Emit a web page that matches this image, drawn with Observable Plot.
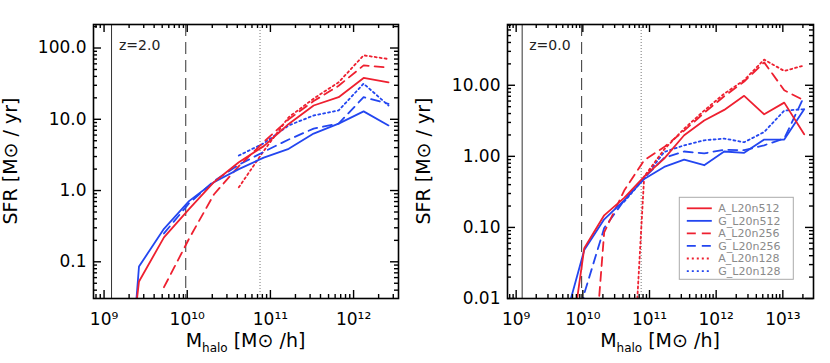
<!DOCTYPE html>
<html><head><meta charset="utf-8">
<script src="https://cdn.jsdelivr.net/npm/d3@7"></script>
<script src="https://cdn.jsdelivr.net/npm/@observablehq/plot@0.6"></script>
<style>
body{margin:0;background:#fff;}
#wrap{display:flex;width:830px;height:363px;overflow:hidden;}
</style></head><body><div id="wrap"></div>
<script>
// ---------- data ----------
const massBins = [1.32e9, 2.63e9, 5.25e9, 1.05e10, 2.09e10, 4.17e10, 8.32e10, 1.66e11, 3.31e11, 6.61e11, 1.32e12, 2.63e12, 5.25e12, 1.05e13, 2.09e13];
const seriesNames = ["A_L20n512", "G_L20n512", "A_L20n256", "G_L20n256", "A_L20n128", "G_L20n128"];
const panelLabels = ["z=2.0", "z=0.0"];
const refMasses = [1.23e9, 9.6e9, 7.5e10];

// z = 2.0 (left panel)
const z2_A_L20n512 = [5e-5, 0.053, 0.22, 0.55, 1.31, 2.5, 4.2, 8.6, 15.6, 20.4, 38, 33, null, null, null];
const z2_G_L20n512 = [3e-6, 0.086, 0.29, 0.71, 1.31, 2.0, 2.9, 3.85, 6.3, 8.7, 12.9, 8.2, null, null, null];
const z2_A_L20n256 = [null, null, 0.044, 0.21, 0.88, 2.2, 4.8, 10, 18, 29.5, 57, 53, null, null, null];
const z2_G_L20n256 = [null, null, 0.25, 0.66, 1.35, 2.3, 3.5, 5.2, 7.4, 8.7, 20.4, 16.5, null, null, null];
const z2_A_L20n128 = [null, null, null, null, null, 1.11, 3.6, 10.7, 19.5, 33, 79, 70, null, null, null];
const z2_G_L20n128 = [null, null, null, null, null, 3.1, 4.6, 8.2, 11.3, 13.3, 31.6, 15.6, null, null, null];

// z = 0.0 (right panel)
const z0_A_L20n512 = [null, null, 0.0005, 0.051, 0.148, 0.26, 0.52, 0.93, 1.98, 3.2, 4.5, 7.1, 3.9, 5.7, 2.04];
const z0_G_L20n512 = [null, null, 0.0045, 0.048, 0.13, 0.24, 0.48, 0.71, 0.9, 0.75, 1.17, 1.12, 1.72, 1.72, 4.6];
const z0_A_L20n256 = [null, null, null, 2e-5, 0.085, 0.33, 0.88, 1.35, 2.3, 4.1, 7.0, 11.3, 21, 8.5, 6.1];
const z0_G_L20n256 = [null, null, 1e-4, 0.0117, 0.098, 0.24, 0.5, 0.95, 1.17, 1.1, 1.24, 1.22, 1.43, 1.78, 7.0];
const z0_A_L20n128 = [null, null, null, null, null, 5e-6, 0.52, 1.25, 2.45, 4.4, 7.6, 11.8, 23, 15.9, 19];
const z0_G_L20n128 = [null, null, null, null, null, 0.23, 0.49, 1.15, 1.43, 1.68, 1.78, 1.58, 2.2, 4.4, 4.6];

// ticks
const leftXTicks = [1e9, 1e10, 1e11, 1e12];
const leftXTickLabels = ["10⁹", "10¹⁰", "10¹¹", "10¹²"];
const rightXTicks = [1e9, 1e10, 1e11, 1e12, 1e13];
const rightXTickLabels = ["10⁹", "10¹⁰", "10¹¹", "10¹²", "10¹³"];
const leftYTicks = [0.1, 1, 10, 100];
const leftYTickLabels = ["0.1", "1.0", "10.0", "100.0"];
const rightYTicks = [0.01, 0.1, 1, 10];
const rightYTickLabels = ["0.01", "0.10", "1.00", "10.00"];
const yTitle = ["SFR [M", "⊙", " / yr]"];
const xTitle = ["M", "halo", " [M", "⊙", " /h]"];

// ---------- styles ----------
const RED = "#ee2030", BLUE = "#2346f0";
const styleOf = {
  "A_L20n512": {stroke: RED, dash: null},
  "G_L20n512": {stroke: BLUE, dash: null},
  "A_L20n256": {stroke: RED, dash: "9,6"},
  "G_L20n256": {stroke: BLUE, dash: "9,6"},
  "A_L20n128": {stroke: RED, dash: "2,3"},
  "G_L20n128": {stroke: BLUE, dash: "2,3"}
};
const FONT = "DejaVu Sans, sans-serif";

function tidy(arrays) {
  const out = {};
  seriesNames.forEach((name, k) => {
    out[name] = [];
    arrays[k].forEach((v, i) => { if (v != null) out[name].push({m: massBins[i], sfr: v, series: name}); });
  });
  return out;
}

function minorTicks(domain) {
  const res = [];
  const lo = Math.floor(Math.log10(domain[0])), hi = Math.ceil(Math.log10(domain[1]));
  for (let e = lo; e <= hi; e++) for (let k = 2; k <= 9; k++) {
    const v = k * Math.pow(10, e);
    if (v >= domain[0] && v <= domain[1]) res.push(v);
  }
  return res;
}

function panel(o) {
  const W = 415, H = 363, mt = 24, mb = 65, mr = 17;
  const innerW = W - o.marginLeft - mr, innerH = H - mt - mb;
  const series = tidy(o.arrays);
  const xMin = minorTicks(o.xDomain), yMin = minorTicks(o.yDomain);
  const xMaj = o.xTicks.filter(v => v >= o.xDomain[0] && v <= o.xDomain[1]);
  const yMaj = o.yTicks.filter(v => v >= o.yDomain[0] && v <= o.yDomain[1]);
  const MAJ = 8, MIN = 4;
  const marks = [
    Plot.ruleX([refMasses[0]], {stroke: "#333", strokeWidth: 1}),
    Plot.ruleX([refMasses[1]], {stroke: "#333", strokeWidth: 1, strokeDasharray: "12,6"}),
    Plot.ruleX([refMasses[2]], {stroke: "#777", strokeWidth: 1, strokeDasharray: "1,2"}),
  ];
  seriesNames.slice().reverse().forEach(name => {
    const s = styleOf[name];
    marks.push(Plot.line(series[name], {x: "m", y: "sfr", stroke: s.stroke, strokeWidth: 1.8,
      strokeDasharray: s.dash, clip: true}));
  });
  const tk = {stroke: "#000", strokeWidth: 1.4};
  marks.push(
    // inward ticks on all four sides
    Plot.tickX(xMaj, {x: d => d, insetTop: innerH - MAJ, ...tk}),
    Plot.tickX(xMaj, {x: d => d, insetBottom: innerH - MAJ, ...tk}),
    Plot.tickX(xMin, {x: d => d, insetTop: innerH - MIN, ...tk}),
    Plot.tickX(xMin, {x: d => d, insetBottom: innerH - MIN, ...tk}),
    Plot.tickY(yMaj, {y: d => d, insetRight: innerW - MAJ, ...tk}),
    Plot.tickY(yMaj, {y: d => d, insetLeft: innerW - MAJ, ...tk}),
    Plot.tickY(yMin, {y: d => d, insetRight: innerW - MIN, ...tk}),
    Plot.tickY(yMin, {y: d => d, insetLeft: innerW - MIN, ...tk}),
    Plot.frame({stroke: "#000", strokeWidth: 1.6}),
    Plot.axisX(xMaj, {anchor: "bottom", tickSize: 0, tickPadding: 14, label: null, fontSize: 17,
      tickFormat: d => o.xTickLabels[o.xTicks.indexOf(d)]}),
    Plot.axisY(yMaj, {anchor: "left", tickSize: 0, tickPadding: 7, label: null, fontSize: 17,
      tickFormat: d => o.yTickLabels[o.yTicks.indexOf(d)]}),
    Plot.text([o.label], {text: d => d, frameAnchor: "top-left", textAnchor: "start", lineAnchor: "middle",
      dx: o.labelDx, dy: 21, fontSize: 14, fill: "#222"})
  );
  const svg = Plot.plot({
    width: W, height: H, marginLeft: o.marginLeft, marginRight: mr, marginTop: mt, marginBottom: mb,
    style: {fontFamily: FONT, color: "#000", background: "#fff", overflow: "visible"},
    x: {type: "log", domain: o.xDomain},
    y: {type: "log", domain: o.yDomain},
    marks
  });
  const g = d3.select(svg);
  const cy = mt + innerH / 2;
  const yt = g.append("text").attr("transform", `translate(${o.yTitleX},${cy}) rotate(-90)`)
    .attr("text-anchor", "middle").attr("font-size", 19).attr("font-family", FONT).attr("fill", "#000");
  yt.append("tspan").text(yTitle[0]);
  yt.append("tspan").text(yTitle[1]);
  yt.append("tspan").text(yTitle[2]);
  const cx = o.marginLeft + innerW / 2;
  const xt = g.append("text").attr("x", cx).attr("y", 347).attr("text-anchor", "middle")
    .attr("font-size", 19).attr("font-family", FONT).attr("fill", "#000");
  xt.append("tspan").text(xTitle[0]);
  xt.append("tspan").text(xTitle[1]).attr("font-size", 12).attr("dy", 5);
  xt.append("tspan").text(xTitle[2]).attr("dy", -5);
  xt.append("tspan").text(xTitle[3]);
  xt.append("tspan").text(xTitle[4]);
  if (o.legend) {
    const lx = 264.3, ly = 197.3, lw = 114, lh = 82;
    const lg = g.append("g");
    lg.append("rect").attr("x", lx).attr("y", ly).attr("width", lw).attr("height", lh)
      .attr("fill", "#fff").attr("stroke", "#aaa").attr("stroke-width", 1);
    seriesNames.forEach((name, i) => {
      const yy = ly + 11 + i * 12.55;
      const s = styleOf[name];
      lg.append("line").attr("x1", lx + 7.5).attr("x2", lx + 32.5).attr("y1", yy).attr("y2", yy)
        .attr("stroke", s.stroke).attr("stroke-width", 1.8).attr("stroke-dasharray", s.dash);
      lg.append("text").attr("x", lx + 39).attr("y", yy).attr("dy", "0.36em").attr("text-anchor", "start")
        .attr("font-size", 11).attr("font-family", FONT).attr("fill", "#8a8a8a").text(name);
    });
  }
  return svg;
}

const wrap = document.getElementById("wrap");
wrap.appendChild(panel({
  arrays: [z2_A_L20n512, z2_G_L20n512, z2_A_L20n256, z2_G_L20n256, z2_A_L20n128, z2_G_L20n128],
  xDomain: [Math.pow(10, 8.873), Math.pow(10, 12.54)], yDomain: [Math.pow(10, -1.515), Math.pow(10, 2.33)],
  xTicks: leftXTicks, xTickLabels: leftXTickLabels, yTicks: leftYTicks, yTickLabels: leftYTickLabels,
  marginLeft: 93, label: panelLabels[0], labelDx: 25.5, yTitleX: 17, legend: false
}));
wrap.appendChild(panel({
  arrays: [z0_A_L20n512, z0_G_L20n512, z0_A_L20n256, z0_G_L20n256, z0_A_L20n128, z0_G_L20n128],
  xDomain: [Math.pow(10, 8.87), Math.pow(10, 13.46)], yDomain: [0.01, Math.pow(10, 1.855)],
  xTicks: rightXTicks, xTickLabels: rightXTickLabels, yTicks: rightYTicks, yTickLabels: rightYTickLabels,
  marginLeft: 92, label: panelLabels[1], labelDx: 21.7, yTitleX: 15, legend: true
}));
</script></body></html>
